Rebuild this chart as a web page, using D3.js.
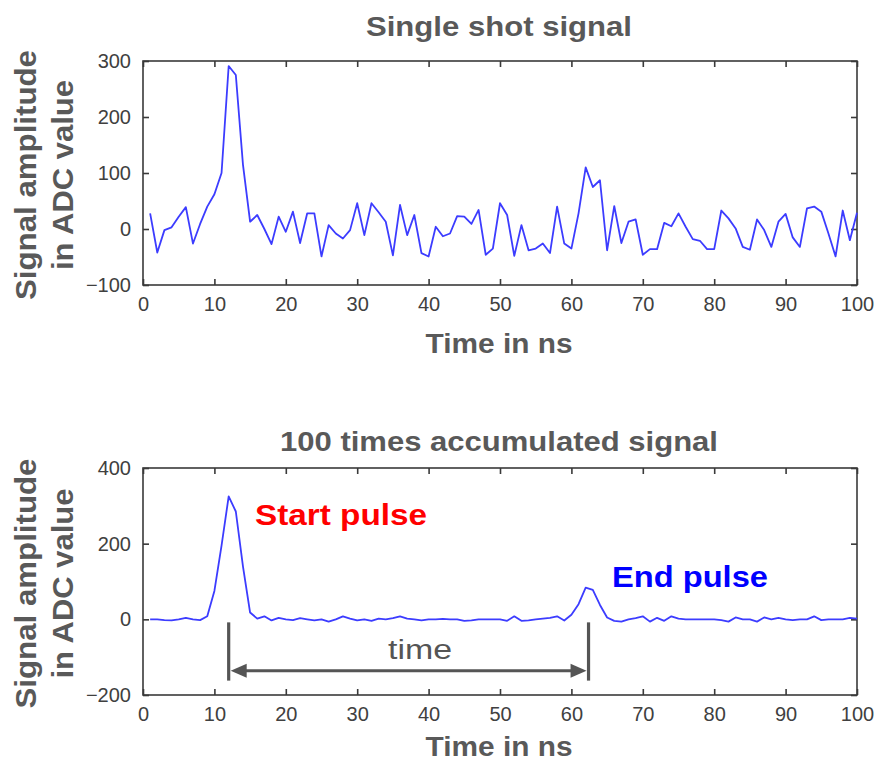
<!DOCTYPE html>
<html>
<head>
<meta charset="utf-8">
<script src="https://cdn.jsdelivr.net/npm/d3@7"></script>
<style>
  html, body { margin: 0; padding: 0; background: #fff; }
  svg { display: block; }
</style>
</head>
<body>
<svg id="chart" width="875" height="764"></svg>
<script>
// ---------------- data ----------------
const timeNs = d3.range(1, 101); // 1 .. 100 ns sample times

const singleShot = [
  28, -42, -2, 3, 22, 39, -26, 9, 40, 62,
  100, 291, 275, 115, 13, 25, 0, -27, 22, -5,
  31, -25, 28, 28, -49, 7, -8, -17, -2, 46,
  -11, 46, 30, 13, -47, 43, -11, 25, -43, -49,
  4, -13, -8, 23, 22, 9, 34, -46, -35, 46,
  25, -48, 7, -38, -35, -26, -43, 40, -26, -35,
  28, 110, 75, 87, -38, 41, -25, 13, 17, -46,
  -36, -36, 11, 5, 28, 4, -18, -21, -36, -36,
  33, 19, 1, -32, -37, 17, -2, -32, 13, 27,
  -15, -32, 37, 40, 31, -8, -49, 33, -20, 29
];

const accumulated = [
  0, 0, -2, -3, 0, 4, 0, -2, 8, 75,
  195, 325, 285, 140, 18, 2, 8, -3, 4, 0,
  -2, 3, 0, -3, 0, -6, 0, 8, 2, -3,
  0, -4, 2, 0, 3, 8, 2, 0, -3, 0,
  0, 1, 0, 0, -4, -3, 0, 0, 0, 0,
  -4, 8, -4, -3, 0, 2, 4, 8, -3, 12,
  40, 84, 78, 38, 5, -4, -6, 0, 3, 8,
  -6, 4, -4, 8, 2, 0, 0, 0, 0, 0,
  -2, -6, 5, 0, 0, -6, 5, 0, 4, 0,
  -2, 0, 0, 8, -2, 0, 0, 0, 4, 2
];

const xTicks = [0, 10, 20, 30, 40, 50, 60, 70, 80, 90, 100];
const yTicksTop = [-100, 0, 100, 200, 300];
const yTicksBottom = [-200, 0, 200, 400];

const titles = ["Single shot signal", "100 times accumulated signal"];
const xLabel = "Time in ns";
const yLabelLines = ["Signal amplitude", "in ADC value"];

// annotations (in data units)
const startPulseT = 12;
const endPulseT = 62.4;
const markerTop = -8, markerBottom = -162, arrowLevel = -136;

// ---------------- drawing ----------------
const svg = d3.select("#chart");
const FONT = "'Liberation Sans', Arial, sans-serif";
const GRAY = "#595959";
const AX = "#404040";
const LINE = "#3c3cff";

function panel(opts) {
  const { top, bottom, yDomain, yTicks, values, title, titleY, titleLen, xLabelY } = opts;
  const left = 143, right = 857;
  const x = d3.scaleLinear().domain([0, 100]).range([left, right]);
  const y = d3.scaleLinear().domain(yDomain).range([bottom, top]);
  const g = svg.append("g");

  // frame
  g.append("rect")
    .attr("x", left).attr("y", top)
    .attr("width", right - left).attr("height", bottom - top)
    .attr("fill", "none").attr("stroke", "#3a3a3a").attr("stroke-width", 1.6);

  // axes (ticks pointing inward, box style)
  const xb = g.append("g").attr("transform", `translate(0,${bottom})`)
    .call(d3.axisBottom(x).tickValues(xTicks).tickSizeInner(-6).tickSizeOuter(0).tickPadding(12));
  const xt = g.append("g").attr("transform", `translate(0,${top})`)
    .call(d3.axisTop(x).tickValues(xTicks).tickSizeInner(-6).tickSizeOuter(0).tickFormat(""));
  const yl = g.append("g").attr("transform", `translate(${left},0)`)
    .call(d3.axisLeft(y).tickValues(yTicks).tickSizeInner(-6).tickSizeOuter(0).tickPadding(12));
  const yr = g.append("g").attr("transform", `translate(${right},0)`)
    .call(d3.axisRight(y).tickValues(yTicks).tickSizeInner(-6).tickSizeOuter(0).tickFormat(""));
  [xb, xt, yl, yr].forEach(a => {
    a.select(".domain").remove();
    a.selectAll(".tick line").attr("stroke", "#3a3a3a").attr("stroke-width", 1.6);
    a.selectAll("text").attr("font-family", FONT).attr("font-size", 20).attr("fill", AX);
  });
  xb.selectAll("text").attr("dy", "0.71em");

  // line
  const line = d3.line().x((d, i) => x(timeNs[i])).y(d => y(d));
  g.append("path").datum(values)
    .attr("d", line).attr("fill", "none")
    .attr("stroke", LINE).attr("stroke-width", 1.8).attr("stroke-linejoin", "round");

  // title
  g.append("text").attr("x", 499).attr("y", titleY)
    .attr("text-anchor", "middle").attr("font-family", FONT).attr("font-weight", "bold")
    .attr("font-size", 27).attr("fill", GRAY)
    .attr("textLength", titleLen).attr("lengthAdjust", "spacingAndGlyphs")
    .text(title);

  // x label
  g.append("text").attr("x", 499).attr("y", xLabelY)
    .attr("text-anchor", "middle").attr("font-family", FONT).attr("font-weight", "bold")
    .attr("font-size", 27).attr("fill", GRAY)
    .attr("textLength", 147).attr("lengthAdjust", "spacingAndGlyphs")
    .text(xLabel);

  // y label (two lines, rotated)
  const cy = (top + bottom) / 2 + 2;
  const lens = [250, 190];
  const xs = [36, 73];
  yLabelLines.forEach((t, i) => {
    g.append("text")
      .attr("transform", `translate(${xs[i]},${cy}) rotate(-90)`)
      .attr("text-anchor", "middle").attr("font-family", FONT).attr("font-weight", "bold")
      .attr("font-size", 29).attr("fill", GRAY)
      .attr("textLength", lens[i]).attr("lengthAdjust", "spacingAndGlyphs")
      .text(t);
  });
  return { x, y, g };
}

panel({ top: 61, bottom: 285, yDomain: [-100, 300], yTicks: yTicksTop, values: singleShot,
        title: titles[0], titleY: 36, titleLen: 266, xLabelY: 353 });
const p2 = panel({ top: 468, bottom: 695, yDomain: [-200, 400], yTicks: yTicksBottom, values: accumulated,
        title: titles[1], titleY: 451, titleLen: 438, xLabelY: 756 });

// annotations on lower panel
const { x, y, g } = p2;
const ANN = "#555555";
[startPulseT, endPulseT].forEach(t => {
  g.append("line")
    .attr("x1", x(t)).attr("x2", x(t))
    .attr("y1", y(markerTop)).attr("y2", y(markerBottom))
    .attr("stroke", ANN).attr("stroke-width", 3.2);
});
const ax1 = x(startPulseT) + 2, ax2 = x(endPulseT) - 2, ay = y(arrowLevel);
const head = 16, hw = 7;
g.append("line").attr("x1", ax1 + head - 2).attr("x2", ax2 - head + 2)
  .attr("y1", ay).attr("y2", ay).attr("stroke", ANN).attr("stroke-width", 3);
g.append("path")
  .attr("d", `M${ax1},${ay} L${ax1 + head},${ay - hw} L${ax1 + head},${ay + hw} Z`)
  .attr("fill", ANN);
g.append("path")
  .attr("d", `M${ax2},${ay} L${ax2 - head},${ay - hw} L${ax2 - head},${ay + hw} Z`)
  .attr("fill", ANN);
g.append("text").attr("x", 420).attr("y", y(arrowLevel) - 12)
  .attr("text-anchor", "middle").attr("font-family", FONT)
  .attr("font-size", 27).attr("fill", ANN)
  .attr("textLength", 64).attr("lengthAdjust", "spacingAndGlyphs")
  .text("time");

g.append("text").attr("x", 255).attr("y", 525)
  .attr("font-family", FONT).attr("font-weight", "bold")
  .attr("font-size", 30).attr("fill", "#ff0000")
  .attr("textLength", 172).attr("lengthAdjust", "spacingAndGlyphs")
  .text("Start pulse");
g.append("text").attr("x", 612).attr("y", 587)
  .attr("font-family", FONT).attr("font-weight", "bold")
  .attr("font-size", 30).attr("fill", "#0000ff")
  .attr("textLength", 156).attr("lengthAdjust", "spacingAndGlyphs")
  .text("End pulse");
</script>
</body>
</html>
